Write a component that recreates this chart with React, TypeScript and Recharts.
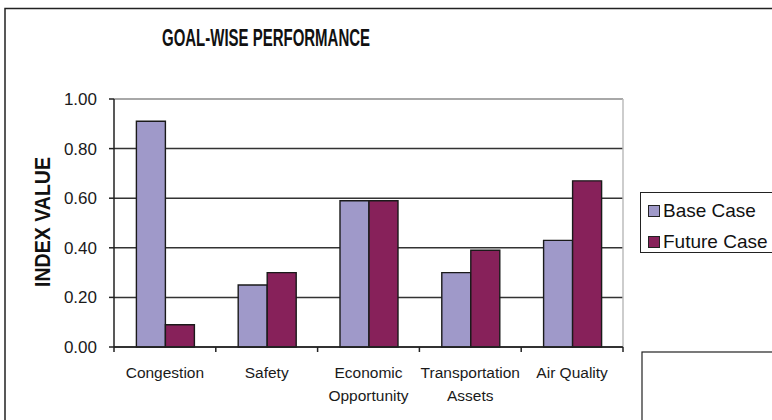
import React from "react";
import { Bar, BarChart, CartesianGrid, Legend, ReferenceLine, XAxis, YAxis } from "recharts";

const FONT = "'Liberation Sans', Arial, sans-serif";

const categories = ["Congestion", "Safety", "Economic Opportunity", "Transportation Assets", "Air Quality"];
const tickLines = [["Congestion"], ["Safety"], ["Economic", "Opportunity"], ["Transportation", "Assets"], ["Air Quality"]];
const baseCase = [0.91, 0.25, 0.59, 0.3, 0.43];
const futureCase = [0.09, 0.3, 0.59, 0.39, 0.67];
const yTicks = [0, 0.2, 0.4, 0.6, 0.8, 1];

const data = categories.map((name, i) => ({ name, base: baseCase[i], future: futureCase[i] }));

// label plus Excel-style tick marks on the category edges
function CatTick(props: any) {
  const { x, y, payload, index } = props;
  const half = payload.offset || 0;
  const lines = tickLines[index] || [];
  return (
    <g>
      <line x1={x - half} x2={x - half} y1={y} y2={y + 5} stroke="#222" strokeWidth={1.5} />
      {index === categories.length - 1 && (
        <line x1={x + half} x2={x + half} y1={y} y2={y + 5} stroke="#222" strokeWidth={1.5} />
      )}
      {lines.map((t, i) => (
        <text key={i} x={x} y={y + 31 + i * 23} textAnchor="middle" fontSize={15.5} fontFamily={FONT} fill="#1a1a1a">
          {t}
        </text>
      ))}
    </g>
  );
}

function LegendBox(props: any) {
  const items = props.payload || [];
  return (
    <div style={{ position: "relative", width: 150, height: 59, border: "1.5px solid #222", fontFamily: FONT }}>
      {items.map((it: any, i: number) => (
        <div key={i} style={{ position: "absolute", left: 7, top: 8 + i * 31, display: "flex", alignItems: "center", whiteSpace: "nowrap" }}>
          <span style={{ width: 10, height: 10, background: it.color, border: "1px solid #222", marginRight: 3 }} />
          <span style={{ fontSize: 19, color: "#111", lineHeight: "20px" }}>{it.value}</span>
        </div>
      ))}
    </div>
  );
}

export default function App() {
  return (
    <div style={{ position: "fixed", left: 0, top: 0, width: 772, height: 420, overflow: "hidden", background: "#fff" }}>
      <BarChart
        width={772}
        height={420}
        data={data}
        margin={{ top: 99, right: 149, bottom: 13, left: 54 }}
        barCategoryGap="22%"
        barGap={0}
      >
        <CartesianGrid vertical={false} stroke="#333" strokeWidth={1.5} />
        <XAxis
          dataKey="name"
          interval={0}
          tick={<CatTick />}
          tickLine={false}
          tickSize={0}
          tickMargin={0}
          height={60}
          axisLine={{ stroke: "#222", strokeWidth: 1.5 }}
        />
        <YAxis
          domain={[0, 1]}
          ticks={yTicks}
          interval={0}
          width={60}
          tickFormatter={(v: number) => v.toFixed(2)}
          tick={{ fontSize: 17, fontFamily: FONT, fill: "#1a1a1a" }}
          tickSize={5}
          tickMargin={12}
          axisLine={{ stroke: "#222", strokeWidth: 1.5 }}
          tickLine={{ stroke: "#222", strokeWidth: 1.5 }}
        />
        <ReferenceLine y={1} stroke="#a8a8a8" strokeWidth={2} />
        <ReferenceLine x={categories[categories.length - 1]} position="end" stroke="#bdbdbd" strokeWidth={1.5} />
        <Legend
          layout="horizontal"
          verticalAlign="middle"
          align="center"
          content={<LegendBox />}
          wrapperStyle={{ position: "absolute", left: 640, top: 192, width: 150, height: 62 }}
        />
        <Bar dataKey="base" name="Base Case" fill="#9f99c9" stroke="#1a1a1a" strokeWidth={1.4} isAnimationActive={false} />
        <Bar dataKey="future" name="Future Case" fill="#87215a" stroke="#1a1a1a" strokeWidth={1.4} isAnimationActive={false} />
      </BarChart>
      <svg width={772} height={420} style={{ position: "absolute", left: 0, top: 0, pointerEvents: "none" }}>
        <rect x={5} y={8.5} width={820} height={500} fill="none" stroke="#222" strokeWidth={1.5} />
        <rect x={642} y={352} width={200} height={200} fill="none" stroke="#222" strokeWidth={1.2} />
        <text
          x={266}
          y={46}
          textAnchor="middle"
          fontSize={24}
          fontWeight="bold"
          fontFamily={FONT}
          fill="#111"
          textLength={208}
          lengthAdjust="spacingAndGlyphs"
        >
          GOAL-WISE PERFORMANCE
        </text>
        <text
          x={50}
          y={222}
          transform="rotate(-90 50 222)"
          textAnchor="middle"
          fontSize={22}
          fontWeight="bold"
          fontFamily={FONT}
          fill="#111"
          textLength={130}
          lengthAdjust="spacingAndGlyphs"
        >
          INDEX VALUE
        </text>
      </svg>
    </div>
  );
}
